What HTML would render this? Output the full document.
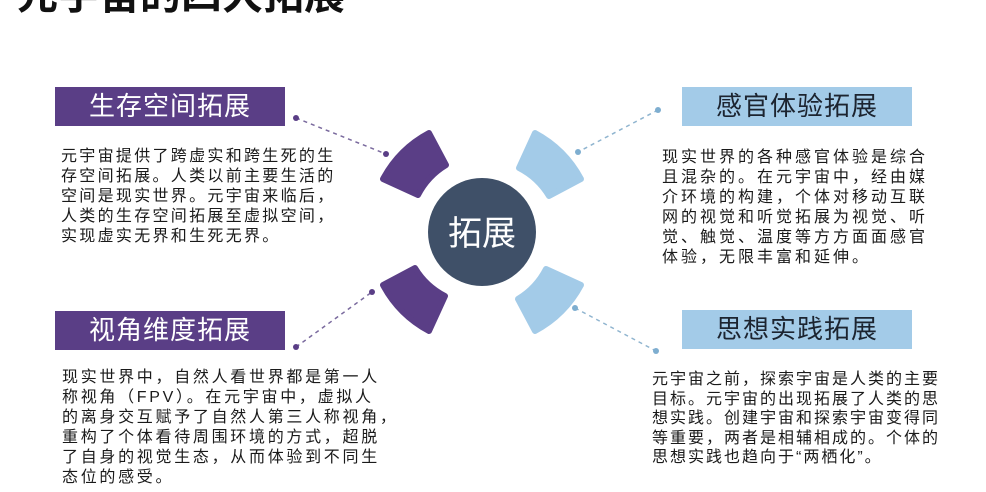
<!DOCTYPE html>
<html><head><meta charset="utf-8"><style>
body{margin:0;width:986px;height:492px;overflow:hidden;background:#fff;position:relative;font-family:"Liberation Sans","Noto Sans CJK SC",sans-serif}
.a{position:absolute;white-space:nowrap}
.t{font-weight:bold;font-size:41px;line-height:41px;left:17px;top:-25px;color:#111}
.lab{position:absolute;height:39px;width:230px;font-size:26px;line-height:39px;text-align:center;letter-spacing:1px}
.p{background:#5a3e86;color:#fff}
.b{background:#a3cbe8;color:#1c2430}
.tx{position:absolute;font-size:16px;color:#1a1a1a;white-space:nowrap}
</style></head><body>
<div class="a t">元宇宙的四大拓展</div>
<svg width="986" height="492" style="position:absolute;left:0;top:0">
<g stroke-dasharray="4,4" stroke-width="1.5" fill="none">
<line x1="296" y1="118" x2="386" y2="154" stroke="#7a6a9e"/>
<line x1="658" y1="110" x2="578" y2="152" stroke="#8fb4cf"/>
<line x1="296" y1="347" x2="372" y2="292" stroke="#7a6a9e"/>
<line x1="575" y1="308" x2="656" y2="351" stroke="#8fb4cf"/>
</g>
<circle cx="296" cy="118" r="3" fill="#5a3e86"/><circle cx="386" cy="154" r="3" fill="#5a3e86"/>
<circle cx="658" cy="110" r="3" fill="#7eaed0"/><circle cx="578" cy="152" r="3" fill="#7eaed0"/>
<circle cx="296" cy="347" r="3" fill="#5a3e86"/><circle cx="372" cy="292" r="3" fill="#5a3e86"/>
<circle cx="575" cy="308" r="3" fill="#7eaed0"/><circle cx="656" cy="351" r="3" fill="#7eaed0"/>
<defs><path id="w" d="M383,179 A112,112 0 0 1 429,133 L446,165 A75,75 0 0 0 418,195 Z" stroke-width="6" stroke-linejoin="round"/></defs>
<use href="#w" fill="#5a3e86" stroke="#5a3e86"/>
<use href="#w" fill="#a3cbe8" stroke="#a3cbe8" transform="rotate(90 482 232)"/>
<use href="#w" fill="#a3cbe8" stroke="#a3cbe8" transform="rotate(180 482 232)"/>
<use href="#w" fill="#5a3e86" stroke="#5a3e86" transform="rotate(270 482 232)"/>
<circle cx="482" cy="232" r="54" fill="#3f5068"/>
<text x="482" y="245" text-anchor="middle" font-size="34" fill="#fff" font-family="Liberation Sans, Noto Sans CJK SC, sans-serif">拓展</text>
</svg>
<div class="lab p" style="left:55px;top:87px">生存空间拓展</div>
<div class="lab b" style="left:682px;top:87px">感官体验拓展</div>
<div class="lab p" style="left:55px;top:311px">视角维度拓展</div>
<div class="lab b" style="left:682px;top:310px">思想实践拓展</div>
<div class="tx" style="left:61px;top:147px;line-height:20px;letter-spacing:2.3px">元宇宙提供了跨虚实和跨生死的生<br>存空间拓展。人类以前主要生活的<br>空间是现实世界。元宇宙来临后，<br>人类的生存空间拓展至虚拟空间，<br>实现虚实无界和生死无界。</div>
<div class="tx" style="left:662px;top:148px;line-height:20px;letter-spacing:3px">现实世界的各种感官体验是综合<br>且混杂的。在元宇宙中，经由媒<br>介环境的构建，个体对移动互联<br>网的视觉和听觉拓展为视觉、听<br>觉、触觉、温度等方方面面感官<br>体验，无限丰富和延伸。</div>
<div class="tx" style="left:62px;top:368px;line-height:20px;letter-spacing:2.7px">现实世界中，自然人看世界都是第一人<br>称视角（FPV）。在元宇宙中，虚拟人<br>的离身交互赋予了自然人第三人称视角，<br>重构了个体看待周围环境的方式，超脱<br>了自身的视觉生态，从而体验到不同生<br>态位的感受。</div>
<div class="tx" style="left:652px;top:370px;line-height:19.5px;letter-spacing:2px">元宇宙之前，探索宇宙是人类的主要<br>目标。元宇宙的出现拓展了人类的思<br>想实践。创建宇宙和探索宇宙变得同<br>等重要，两者是相辅相成的。个体的<br>思想实践也趋向于“两栖化”。</div>
</body></html>
